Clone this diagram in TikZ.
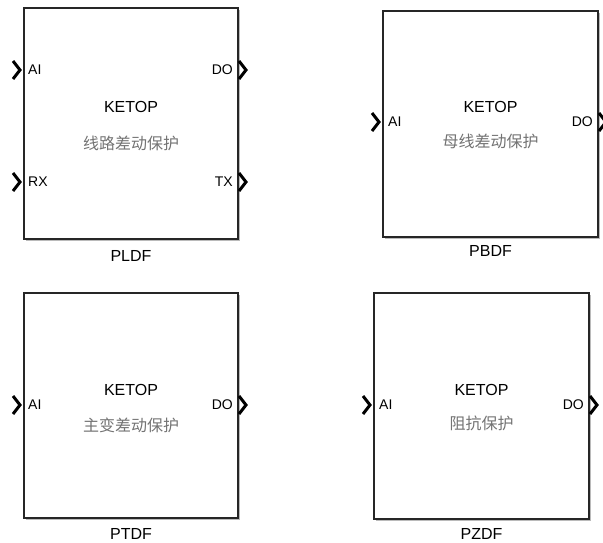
\documentclass[tikz,border=0pt]{standalone}
\usepackage{fontspec}
\setmainfont{Liberation Sans}
\newfontfamily\cjk{Noto Sans CJK SC}
\usetikzlibrary{shadows}

\begin{document}
\begin{tikzpicture}[x=1pt,y=-1pt,line join=miter,
  blk/.style={draw=black!85,line width=1.3pt,fill=white,inner sep=0pt,
    drop shadow={shadow xshift=2.2pt,shadow yshift=-2.2pt,fill=black!45,opacity=.6}},
  lib/.style={font=\fontsize{16}{16}\selectfont},
  desc/.style={font=\cjk\fontsize{16}{16}\selectfont,text=black!55},
  portlbl/.style={font=\fontsize{14}{14}\selectfont,inner sep=0pt},
  bname/.style={font=\fontsize{16}{16}\selectfont,inner sep=0pt},
  chev/.style={line width=3pt}]
\useasboundingbox (0,0) rectangle (603,542);
% PLDF
\node[blk,minimum width=214,minimum height=231] (pldf) at (131,123.5) {};
\node[lib] (pldf-lib) at (131,107) {KETOP};
\node[desc] (pldf-desc) at (131,143) {线路差动保护};
\node[portlbl,anchor=west] (pldf-ai) at (28,70) {AI};
\node[portlbl,anchor=west] (pldf-rx) at (28,182) {RX};
\node[portlbl,anchor=east] (pldf-do) at (233,70) {DO};
\node[portlbl,anchor=east] (pldf-tx) at (233,182) {TX};
\draw[chev] (13,61) -- (20,70) -- (13,79);
\draw[chev] (13,173) -- (20,182) -- (13,191);
\draw[chev] (239,61) -- (246,70) -- (239,79);
\draw[chev] (239,173) -- (246,182) -- (239,191);
\node[bname] (pldf-name) at (131,256) {PLDF};
% PBDF
\node[blk,minimum width=215,minimum height=226] (pbdf) at (490.5,124) {};
\node[lib] (pbdf-lib) at (490.5,107) {KETOP};
\node[desc] (pbdf-desc) at (490.5,141) {母线差动保护};
\node[portlbl,anchor=west] (pbdf-ai) at (388,122) {AI};
\node[portlbl,anchor=east] (pbdf-do) at (593,122) {DO};
\draw[chev] (372,113) -- (379,122) -- (372,131);
\draw[chev] (599,113) -- (606,122) -- (599,131);
\node[bname] (pbdf-name) at (490.5,251) {PBDF};
% PTDF
\node[blk,minimum width=214,minimum height=225] (ptdf) at (131,405.5) {};
\node[lib] (ptdf-lib) at (131,390) {KETOP};
\node[desc] (ptdf-desc) at (131,425) {主变差动保护};
\node[portlbl,anchor=west] (ptdf-ai) at (28,405) {AI};
\node[portlbl,anchor=east] (ptdf-do) at (233,405) {DO};
\draw[chev] (13,396) -- (20,405) -- (13,414);
\draw[chev] (239,396) -- (246,405) -- (239,414);
\node[bname] (ptdf-name) at (131,534) {PTDF};
% PZDF
\node[blk,minimum width=215,minimum height=226] (pzdf) at (481.5,406) {};
\node[lib] (pzdf-lib) at (481.5,390) {KETOP};
\node[desc] (pzdf-desc) at (481.5,423.5) {阻抗保护};
\node[portlbl,anchor=west] (pzdf-ai) at (379,405) {AI};
\node[portlbl,anchor=east] (pzdf-do) at (584,405) {DO};
\draw[chev] (363,396) -- (370,405) -- (363,414);
\draw[chev] (590,396) -- (597,405) -- (590,414);
\node[bname] (pzdf-name) at (481.5,534) {PZDF};
\end{tikzpicture}
\end{document}
